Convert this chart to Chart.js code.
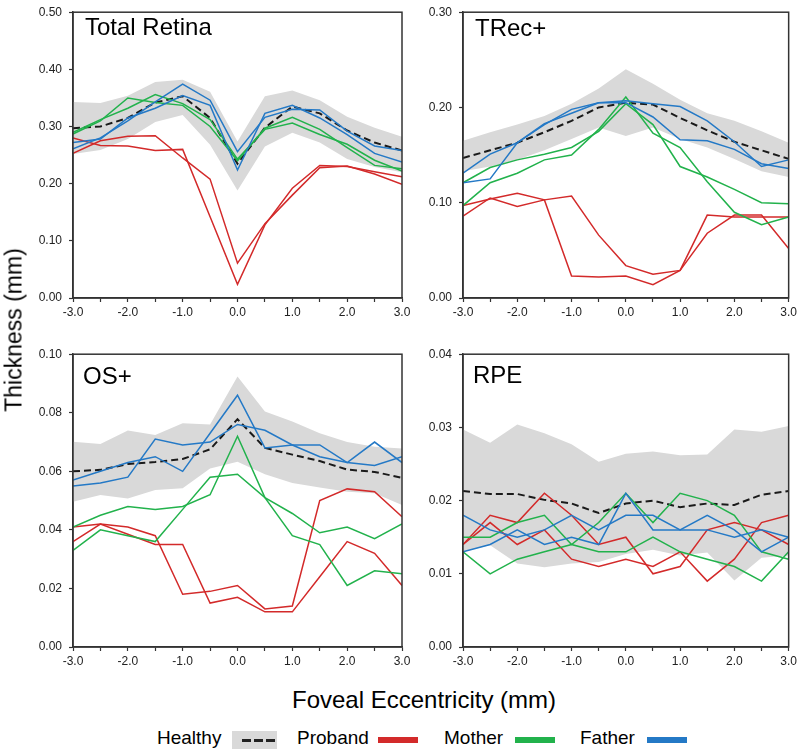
<!DOCTYPE html>
<html>
<head>
<meta charset="utf-8">
<script src="https://cdn.jsdelivr.net/npm/chart.js@4.4.1/dist/chart.umd.min.js"></script>
<style>
  body { margin: 0; background: #fff; font-family: 'Liberation Sans', Arial, sans-serif; }
  #wrap { position: relative; width: 800px; height: 750px; overflow: hidden; }
  .panel { position: absolute; }
  .title { position: absolute; font-size: 24px; line-height: 24px; color: #000; white-space: nowrap; }
  .axis-title { position: absolute; font-size: 23px; line-height: 23px; color: #000; white-space: nowrap; }
  .leg { position: absolute; font-size: 19px; line-height: 19px; color: #000; top: 728px; white-space: nowrap; }
  .swatch { position: absolute; top: 737px; width: 40px; height: 6px; }
</style>
</head>
<body>
<div id="wrap">
  <div class="panel" style="left:20px; top:-2px; width:395px; height:322px;"><canvas id="totalChart"></canvas></div>
  <div class="panel" style="left:410px; top:-2px; width:390px; height:322px;"><canvas id="trecChart"></canvas></div>
  <div class="panel" style="left:20px; top:340px; width:395px; height:329px;"><canvas id="osChart"></canvas></div>
  <div class="panel" style="left:410px; top:340px; width:390px; height:329px;"><canvas id="rpeChart"></canvas></div>

  <div class="title" style="left:85px; top:15px;">Total Retina</div>
  <div class="title" style="left:475px; top:16px;">TRec+</div>
  <div class="title" style="left:83px; top:364px;">OS+</div>
  <div class="title" style="left:473px; top:363px;">RPE</div>

  <div class="axis-title" style="left:14px; top:330px; transform: translate(-50%, -50%) rotate(-90deg);">Thickness (mm)</div>
  <div class="axis-title" style="left:424px; top:688px; transform: translateX(-50%); font-size:24px; line-height:24px;">Foveal Eccentricity (mm)</div>

  <div class="leg" style="left:157px;">Healthy</div>
  <div style="position:absolute; left:232px; top:731px; width:45px; height:18px; background:#d9d9d9;"></div>
  <div style="position:absolute; left:242px; top:739px; width:33px; height:3px; background: repeating-linear-gradient(to right, #222 0 9px, transparent 9px 12px);"></div>
  <div class="leg" style="left:297px;">Proband</div>
  <div class="swatch" style="left:378px; background:#d32a2a;"></div>
  <div class="leg" style="left:444px;">Mother</div>
  <div class="swatch" style="left:515px; background:#22b24c;"></div>
  <div class="leg" style="left:580px;">Father</div>
  <div class="swatch" style="left:647px; background:#2479c6;"></div>
</div>

<script>
const ecc = [-3.0, -2.5, -2.0, -1.5, -1.0, -0.5, 0.0, 0.5, 1.0, 1.5, 2.0, 2.5, 3.0];

// Total Retina
const totalMean  = [0.297, 0.300, 0.315, 0.342, 0.353, 0.315, 0.235, 0.298, 0.335, 0.323, 0.293, 0.272, 0.258];
const totalUpper = [0.343, 0.341, 0.354, 0.378, 0.382, 0.361, 0.274, 0.353, 0.363, 0.346, 0.317, 0.298, 0.282];
const totalLower = [0.252, 0.259, 0.278, 0.308, 0.320, 0.268, 0.188, 0.265, 0.289, 0.272, 0.243, 0.229, 0.220];
const totalProband1 = [0.253, 0.275, 0.283, 0.284, 0.245, 0.208, 0.061, 0.130, 0.180, 0.228, 0.231, 0.217, 0.199];
const totalProband2 = [0.280, 0.267, 0.266, 0.258, 0.260, 0.142, 0.024, 0.128, 0.192, 0.232, 0.230, 0.221, 0.212];
const totalMother1 = [0.287, 0.310, 0.350, 0.342, 0.337, 0.300, 0.240, 0.297, 0.316, 0.295, 0.263, 0.232, 0.226];
const totalMother2 = [0.290, 0.312, 0.332, 0.356, 0.340, 0.312, 0.243, 0.295, 0.306, 0.286, 0.269, 0.241, 0.222];
const totalFather1 = [0.261, 0.280, 0.310, 0.343, 0.374, 0.346, 0.256, 0.316, 0.330, 0.329, 0.292, 0.266, 0.258];
const totalFather2 = [0.272, 0.278, 0.315, 0.332, 0.354, 0.337, 0.224, 0.323, 0.337, 0.315, 0.286, 0.253, 0.238];

// TRec+
const trecMean  = [0.147, 0.155, 0.163, 0.174, 0.186, 0.200, 0.205, 0.203, 0.189, 0.176, 0.164, 0.155, 0.146];
const trecUpper = [0.165, 0.174, 0.182, 0.191, 0.204, 0.220, 0.240, 0.225, 0.208, 0.194, 0.186, 0.175, 0.163];
const trecLower = [0.133, 0.138, 0.145, 0.155, 0.167, 0.179, 0.170, 0.179, 0.167, 0.158, 0.146, 0.133, 0.127];
const trecProband1 = [0.086, 0.105, 0.096, 0.103, 0.107, 0.066, 0.034, 0.025, 0.029, 0.068, 0.087, 0.087, 0.052];
const trecProband2 = [0.097, 0.104, 0.110, 0.103, 0.023, 0.022, 0.023, 0.014, 0.029, 0.087, 0.085, 0.085, 0.085];
const trecMother1 = [0.097, 0.121, 0.131, 0.145, 0.150, 0.177, 0.211, 0.173, 0.158, 0.122, 0.090, 0.077, 0.085];
const trecMother2 = [0.121, 0.137, 0.145, 0.151, 0.158, 0.175, 0.204, 0.182, 0.138, 0.127, 0.114, 0.100, 0.099];
const trecFather1 = [0.131, 0.151, 0.163, 0.183, 0.194, 0.205, 0.207, 0.204, 0.201, 0.186, 0.164, 0.138, 0.145];
const trecFather2 = [0.121, 0.125, 0.163, 0.182, 0.198, 0.205, 0.205, 0.190, 0.166, 0.165, 0.156, 0.141, 0.136];

// OS+
const osMean  = [0.0600, 0.0605, 0.0625, 0.0632, 0.0642, 0.0675, 0.0778, 0.0680, 0.0657, 0.0635, 0.0606, 0.0598, 0.0578];
const osUpper = [0.0701, 0.0693, 0.0739, 0.0724, 0.0764, 0.0760, 0.0924, 0.0804, 0.0770, 0.0730, 0.0700, 0.0684, 0.0678];
const osLower = [0.0496, 0.0519, 0.0507, 0.0536, 0.0542, 0.0610, 0.0633, 0.0590, 0.0560, 0.0545, 0.0530, 0.0525, 0.0485];
const osProband1 = [0.041, 0.042, 0.041, 0.038, 0.018, 0.019, 0.021, 0.013, 0.014, 0.050, 0.054, 0.053, 0.0445];
const osProband2 = [0.036, 0.042, 0.0385, 0.035, 0.035, 0.015, 0.017, 0.012, 0.012, 0.024, 0.036, 0.032, 0.021];
const osMother1 = [0.041, 0.045, 0.048, 0.047, 0.048, 0.052, 0.072, 0.051, 0.038, 0.035, 0.021, 0.026, 0.025];
const osMother2 = [0.033, 0.040, 0.038, 0.036, 0.047, 0.058, 0.059, 0.051, 0.0456, 0.039, 0.041, 0.037, 0.042];
const osFather1 = [0.055, 0.056, 0.058, 0.071, 0.069, 0.070, 0.076, 0.074, 0.069, 0.065, 0.063, 0.062, 0.065];
const osFather2 = [0.057, 0.060, 0.063, 0.065, 0.060, 0.073, 0.086, 0.068, 0.069, 0.069, 0.063, 0.070, 0.063];

// RPE
const rpeMean  = [0.0213, 0.0209, 0.0209, 0.0201, 0.0196, 0.0183, 0.0196, 0.0200, 0.0191, 0.0196, 0.0194, 0.0208, 0.0213];
const rpeUpper = [0.0297, 0.0279, 0.0304, 0.0292, 0.0277, 0.0253, 0.0264, 0.0267, 0.0262, 0.0263, 0.0297, 0.0294, 0.0302];
const rpeLower = [0.0130, 0.0139, 0.0114, 0.0109, 0.0114, 0.0116, 0.0127, 0.0133, 0.0125, 0.0129, 0.0091, 0.0122, 0.0125];
const rpeProband1 = [0.014, 0.018, 0.017, 0.021, 0.018, 0.014, 0.015, 0.010, 0.011, 0.016, 0.017, 0.016, 0.014];
const rpeProband2 = [0.014, 0.017, 0.014, 0.016, 0.012, 0.011, 0.012, 0.011, 0.013, 0.009, 0.012, 0.017, 0.018];
const rpeMother1 = [0.015, 0.015, 0.017, 0.018, 0.014, 0.013, 0.013, 0.015, 0.013, 0.012, 0.011, 0.009, 0.013];
const rpeMother2 = [0.013, 0.010, 0.012, 0.013, 0.014, 0.017, 0.021, 0.017, 0.021, 0.020, 0.018, 0.013, 0.012];
const rpeFather1 = [0.018, 0.016, 0.015, 0.016, 0.018, 0.016, 0.018, 0.018, 0.016, 0.018, 0.016, 0.013, 0.015];
const rpeFather2 = [0.013, 0.014, 0.016, 0.014, 0.015, 0.014, 0.021, 0.016, 0.016, 0.016, 0.015, 0.016, 0.015];

const RED = '#d32a2a';
const GREEN = '#22b24c';
const BLUE = '#2479c6';
const BAND = '#d9d9d9';
const AXIS = '#333333';

function toPoints(values) {
  return ecc.map((x, i) => ({ x: x, y: values[i] }));
}

// box around the plot area
const framePlugin = {
  id: 'frame',
  afterDraw(chart) {
    const { ctx, chartArea: a } = chart;
    ctx.save();
    ctx.strokeStyle = AXIS;
    ctx.lineWidth = 1.5;
    ctx.strokeRect(a.left, a.top, a.right - a.left, a.bottom - a.top);
    ctx.restore();
  }
};

function lineSet(values, color, order) {
  return {
    data: toPoints(values),
    borderColor: color,
    borderWidth: 1.5,
    pointRadius: 0,
    fill: false,
    tension: 0,
    order: order
  };
}

function drawPanel(id, yMax, yStep, padTop, padRight, upper, lower, mean, proband1, proband2, mother1, mother2, father1, father2) {
  const tickFont = { family: "'Liberation Sans', Arial, sans-serif", size: 12 };
  new Chart(document.getElementById(id), {
    type: 'line',
    data: {
      datasets: [
        { data: toPoints(upper), borderWidth: 0, borderColor: 'rgba(0,0,0,0)', pointRadius: 0, fill: false, order: 9 },
        { data: toPoints(lower), borderWidth: 0, borderColor: 'rgba(0,0,0,0)', pointRadius: 0, fill: '-1', backgroundColor: BAND, order: 8 },
        Object.assign(lineSet(mean, '#1a1a1a', 4), { borderDash: [7, 4], borderWidth: 2 }),
        lineSet(proband1, RED, 3),
        lineSet(proband2, RED, 3),
        lineSet(mother1, GREEN, 2),
        lineSet(mother2, GREEN, 2),
        lineSet(father1, BLUE, 1),
        lineSet(father2, BLUE, 1)
      ]
    },
    options: {
      responsive: true,
      maintainAspectRatio: false,
      animation: false,
      events: [],
      layout: { padding: { top: padTop, right: padRight, left: 0, bottom: 0 } },
      plugins: {
        legend: { display: false },
        tooltip: { enabled: false },
        filler: { drawTime: 'beforeDatasetsDraw' }
      },
      scales: {
        x: {
          type: 'linear',
          min: -3,
          max: 3,
          ticks: {
            stepSize: 0.5,
            autoSkip: false,
            maxRotation: 0,
            padding: 3,
            color: '#222',
            font: tickFont,
            callback: (value) => Math.abs(value % 1) < 1e-9 ? value.toFixed(1) : ''
          },
          grid: { drawOnChartArea: false, tickLength: 4, tickColor: AXIS, tickWidth: 1.2 },
          border: { color: AXIS, width: 1.5 },
          afterFit: (scale) => { scale.height = 22; }
        },
        y: {
          min: 0,
          max: yMax,
          ticks: {
            stepSize: yStep,
            padding: 7,
            color: '#222',
            font: tickFont,
            callback: (value) => value.toFixed(2)
          },
          grid: { drawOnChartArea: false, tickLength: 4, tickColor: AXIS, tickWidth: 1.2 },
          border: { color: AXIS, width: 1.5 },
          afterFit: (scale) => { scale.width = 53; }
        }
      }
    },
    plugins: [framePlugin]
  });
}

document.addEventListener('DOMContentLoaded', () => {
  drawPanel('totalChart', 0.5, 0.1, 7, 13, totalUpper, totalLower, totalMean,
    totalProband1, totalProband2, totalMother1, totalMother2, totalFather1, totalFather2);
  drawPanel('trecChart', 0.3, 0.1, 7, 9, trecUpper, trecLower, trecMean,
    trecProband1, trecProband2, trecMother1, trecMother2, trecFather1, trecFather2);
  drawPanel('osChart', 0.1, 0.02, 14, 13, osUpper, osLower, osMean,
    osProband1, osProband2, osMother1, osMother2, osFather1, osFather2);
  drawPanel('rpeChart', 0.04, 0.01, 14, 9, rpeUpper, rpeLower, rpeMean,
    rpeProband1, rpeProband2, rpeMother1, rpeMother2, rpeFather1, rpeFather2);
});
</script>
</body>
</html>
